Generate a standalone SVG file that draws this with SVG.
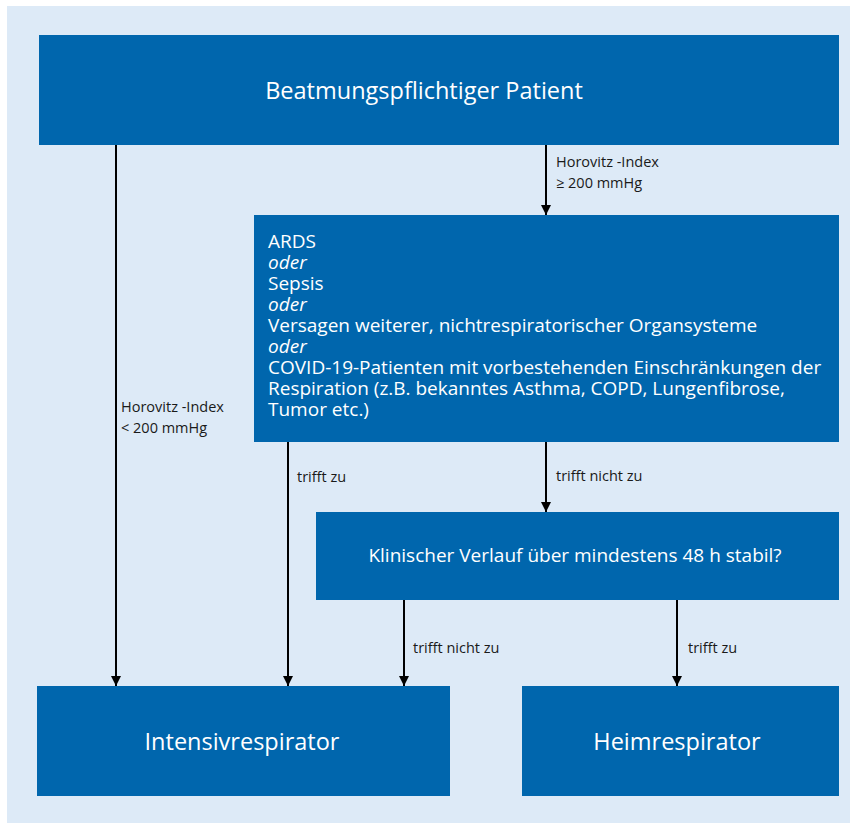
<svg xmlns="http://www.w3.org/2000/svg" width="857" height="824" viewBox="0 0 857 824">
<defs>
<style>
.box{fill:#0066ad}
.t{fill:#ffffff;font-family:"Open Sans","Noto Sans",sans-serif}
.big{font-size:23.5px}
.mid{font-size:19px}
.lbl{fill:#1a1a1a;font-family:"Open Sans","Noto Sans",sans-serif;font-size:14.5px}
.c{stroke:#000;stroke-width:2;fill:none;marker-end:url(#ah)}
</style>
<marker id="ah" viewBox="0 0 10 16" refX="10" refY="8" markerWidth="10" markerHeight="16" markerUnits="userSpaceOnUse" orient="auto">
<path d="M0,3 L10,8 L0,13 Z" fill="#000"/>
</marker>
</defs>
<rect x="0" y="0" width="857" height="824" fill="#ffffff"/>
<rect x="7" y="6" width="843" height="817" fill="#ddeaf7"/>
<g id="connectors">
<path class="c" d="M116,145 V686"/>
<path class="c" d="M546,145 V215"/>
<path class="c" d="M288,442 V686"/>
<path class="c" d="M546,442 V512"/>
<path class="c" d="M404,600 V686"/>
<path class="c" d="M677,600 V686"/>
<text class="lbl" x="556" y="167">Horovitz -Index</text>
<text class="lbl" x="556" y="188">≥ 200 mmHg</text>
<text class="lbl" x="121" y="412">Horovitz -Index</text>
<text class="lbl" x="121" y="433">&lt; 200 mmHg</text>
<text class="lbl" x="297" y="482">trifft zu</text>
<text class="lbl" x="556" y="481">trifft nicht zu</text>
<text class="lbl" x="413" y="653">trifft nicht zu</text>
<text class="lbl" x="688" y="653">trifft zu</text>
</g>
<g id="patient">
<rect class="box" x="39" y="35" width="800" height="110"/>
<text class="t big" x="424" y="99" text-anchor="middle">Beatmungspflichtiger Patient</text>
</g>
<g id="kriterien">
<rect class="box" x="254" y="215" width="585" height="227"/>
<text class="t mid" x="268">
<tspan x="268" y="248">ARDS</tspan>
<tspan x="268" y="269" font-style="italic">oder</tspan>
<tspan x="268" y="290">Sepsis</tspan>
<tspan x="268" y="311" font-style="italic">oder</tspan>
<tspan x="268" y="332">Versagen weiterer, nichtrespiratorischer Organsysteme</tspan>
<tspan x="268" y="353" font-style="italic">oder</tspan>
<tspan x="268" y="374">COVID-19-Patienten mit vorbestehenden Einschränkungen der</tspan>
<tspan x="268" y="395">Respiration (z.B. bekanntes Asthma, COPD, Lungenfibrose,</tspan>
<tspan x="268" y="416">Tumor etc.)</tspan>
</text>
</g>
<g id="verlauf">
<rect class="box" x="316" y="512" width="523" height="88"/>
<text class="t mid" x="575" y="562" text-anchor="middle">Klinischer Verlauf über mindestens 48 h stabil?</text>
</g>
<g id="intensiv">
<rect class="box" x="37" y="686" width="413" height="110"/>
<text class="t big" x="242" y="750" text-anchor="middle">Intensivrespirator</text>
</g>
<g id="heim">
<rect class="box" x="522" y="686" width="317" height="110"/>
<text class="t big" x="677" y="750" text-anchor="middle">Heimrespirator</text>
</g>
</svg>
